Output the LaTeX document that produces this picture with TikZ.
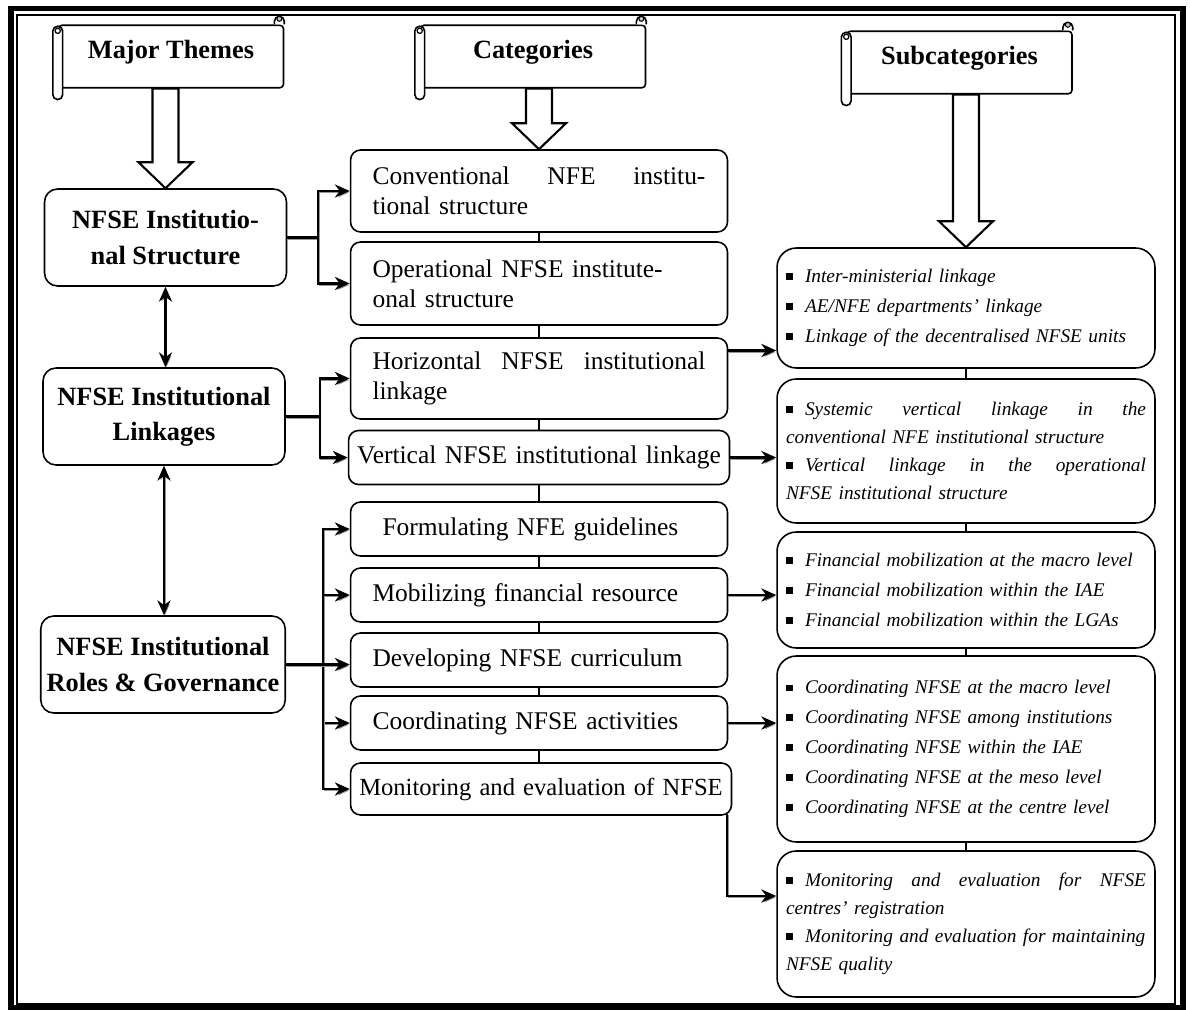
\documentclass[tikz,border=0pt]{standalone}
\usepackage{fontspec}
\setmainfont{Liberation Serif}
\usepackage{tikz}
\usetikzlibrary{arrows.meta, calc}
\definecolor{shadowgray}{RGB}{150, 150, 150}
\newcommand{\sqbullet}{\rule[1.5pt]{3.8pt}{3.8pt}\hspace{7pt}}

\begin{document}
\begin{tikzpicture}[x=0.02cm, y=-0.02cm,
    >={Stealth[length=8.5pt, width=7.5pt]},
    banner/.style={draw, line width=0.9pt, rounded corners=2pt, fill=white,
                   minimum width=4.5cm, minimum height=1.25cm,
                   text height=10pt, text depth=8pt,
                   font=\fontsize{15}{18}\selectfont\bfseries},
    themebox/.style={draw, line width=0.9pt, rounded corners=7.4pt,
                     minimum width=4.84cm, minimum height=1.94cm, align=center,
                     font=\fontsize{15}{20}\selectfont\bfseries},
    catbox/.style={draw, line width=0.9pt, rounded corners=5.7pt,
                   minimum width=7.54cm, minimum height=1.08cm,
                   text width=6.66cm, inner xsep=0.44cm, align=left,
                   font=\fontsize{14.5}{17}\selectfont},
    catwide/.style={text width=7.62cm, inner xsep=0pt, align=center},
    subbox/.style={draw, line width=0.9pt, rounded corners=11pt,
                   minimum width=7.56cm, text width=7.2cm, inner xsep=0.18cm,
                   align=left, font=\fontsize{11}{17}\selectfont\itshape},
    subtight/.style={font=\fontsize{11}{16}\selectfont\itshape},
    feed/.style={line width=1.3pt, ->,
                 preaction={draw=shadowgray, transform canvas={shift={(0.6pt,-0.9pt)}}}},
    twoway/.style={feed, <->},
    chain/.style={line width=1.1pt},
    blockarrow/.style={line width=1.2pt, fill=white, line join=miter}]

  \useasboundingbox (0,0) rectangle (1190,1010);
  \draw[line width=3.4pt] (11,8.5) rectangle (1182.5,1008);
  \draw[line width=0.8pt] (17,15) rectangle (1175,1004);

  \node[banner] (hdThemes) at (171,56.5) {Major Themes};
  \node[banner] (hdCats) at (533,56.5) {Categories};
  \node[banner] (hdSubs) at (959.5,62.5) {Subcategories};
  \foreach \hd in {hdThemes, hdCats, hdSubs} {
    \draw[line width=0.9pt, fill=white, rounded corners=2.8pt]
          ([xshift=-2.8pt, yshift=-1pt]\hd.north west)
          rectangle ([xshift=2.8pt, yshift=-6.3pt]\hd.south west);
    \draw[line width=0.7pt] ([yshift=-3.6pt]\hd.north west) circle (1.5pt);
    \draw[line width=0.9pt, fill=white]
          ([xshift=-5.6pt]\hd.north east) -- ++(0,-3.2) arc (180:0:2.8pt) -- ++(0,3.2);
    \draw[line width=0.6pt, fill=gray!45]
          ([xshift=-2.8pt, yshift=3.2pt]\hd.north east) circle (1.4pt);
  }

  \node[themebox] (t1) at (165.5,237.5) {NFSE Institutio-\\nal Structure};
  \node[themebox] (t2) at (164,416.5) {NFSE Institutional\\Linkages};
  \node[themebox] (t3) at (163,664.5) {NFSE Institutional\\Roles \& Governance};

  \node[catbox, minimum height=1.64cm] (c1) at (539,191)
        {Conventional\hfill NFE\hfill institu-\\tional structure};
  \node[catbox, minimum height=1.66cm] (c2) at (539,283.5)
        {Operational NFSE institute-\\onal structure};
  \node[catbox, minimum height=1.62cm] (c3) at (539,378.5)
        {Horizontal\hfill NFSE\hfill institutional\\linkage};
  \node[catbox, catwide] (c4) at (539,457.5) {Vertical NFSE institutional linkage};
  \node[catbox] (c5) at (539,529) {\hspace*{0.2cm}Formulating NFE guidelines};
  \node[catbox] (c6) at (539,595) {Mobilizing financial resource};
  \node[catbox] (c7) at (539,660) {Developing NFSE curriculum};
  \node[catbox] (c8) at (539,723) {Coordinating NFSE activities};
  \node[catbox, catwide, minimum height=1.04cm,
        font=\fontsize{14}{17}\selectfont] (c9) at (541,789)
        {Monitoring and evaluation of NFSE};

  \node[subbox, minimum height=2.4cm] (s1) at (966,308)
        {\sqbullet Inter-ministerial linkage\\
         \sqbullet AE/NFE departments’ linkage\\
         \sqbullet Linkage of the decentralised NFSE units};
  \node[subbox, subtight, minimum height=2.88cm] (s2) at (966,451)
        {\sqbullet Systemic\hfill vertical\hfill linkage\hfill in\hfill the\\
         conventional NFE institutional structure\\
         \sqbullet Vertical\hfill linkage\hfill in\hfill the\hfill operational\\
         NFSE institutional structure};
  \node[subbox, minimum height=2.32cm] (s3) at (966,590)
        {\sqbullet Financial mobilization at the macro level\\
         \sqbullet Financial mobilization within the IAE\\
         \sqbullet Financial mobilization within the LGAs};
  \node[subbox, minimum height=3.72cm] (s4) at (966,749)
        {\sqbullet Coordinating NFSE at the macro level\\
         \sqbullet Coordinating NFSE among institutions\\
         \sqbullet Coordinating NFSE within the IAE\\
         \sqbullet Coordinating NFSE at the meso level\\
         \sqbullet Coordinating NFSE at the centre level};
  \node[subbox, subtight, minimum height=2.92cm] (s5) at (966,924)
        {\sqbullet Monitoring\hfill and\hfill evaluation\hfill for\hfill NFSE\\
         centres’ registration\\
         \sqbullet Monitoring and evaluation for maintaining\\
         NFSE quality};

  \foreach \hd/\tg in {hdThemes/t1, hdCats/c1, hdSubs/s1}
    \draw[blockarrow] let \p1=(\tg.north), \p2=(\hd.south) in
          (\x1,\y1) -- (\x1-15.4pt,\y1+14.8pt) -- (\x1-7.4pt,\y1+14.8pt)
          -- (\x1-7.4pt,\y2) -- (\x1+7.4pt,\y2) -- (\x1+7.4pt,\y1+14.8pt)
          -- (\x1+15.4pt,\y1+14.8pt) -- cycle;

  \foreach \a/\b in {c1/c2, c2/c3, c3/c4, c4/c5, c5/c6, c6/c7, c7/c8, c8/c9}
    \draw[chain] (\a.south) -- (\a.south |- \b.north);
  \foreach \a/\b in {s1/s2, s2/s3, s3/s4, s4/s5}
    \draw[chain] (\a.south) -- (\b.north);

  \draw[twoway] (t1.south) -- (t1.south |- t2.north);
  \draw[twoway] (t2.south) -- (t2.south |- t3.north);

  \foreach \c in {c1, c2}
    \draw[feed] (t1.east) -- ++(31,0) |- (\c.west);
  \foreach \c in {c3, c4}
    \draw[feed] (t2.east) -- ++(34,0) |- (\c.west);
  \foreach \c in {c5, c6, c8, c9}
    \draw[feed] (t3.east) -- ++(37,0) |- (\c.west);
  \draw[feed] (t3.east) -- (t3.east -| c7.west);

  \coordinate (c3out) at ($(c3.east)+(0,-28)$);
  \coordinate (s5in) at ($(s5.west)+(0,-28)$);
  \draw[feed] (c3out) -- (c3out -| s1.west);
  \draw[feed] (c4.east) -- (c4.east -| s2.west);
  \draw[feed] (c6.east) -- (c6.east -| s3.west);
  \draw[feed] (c8.east) -- (c8.east -| s4.west);
  \draw[feed] ($(c9.south east)+(-5,-2)$) |- (s5in);
\end{tikzpicture}
\end{document}
